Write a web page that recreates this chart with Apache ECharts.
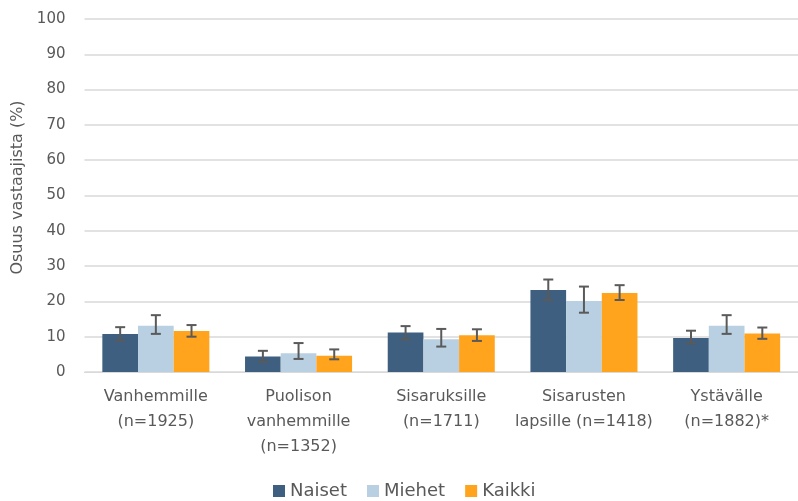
<!DOCTYPE html>
<html><head><meta charset="utf-8">
<script src="https://cdn.jsdelivr.net/npm/echarts@6/dist/echarts.min.js"></script>
<style>html,body{margin:0;padding:0;background:#fff;overflow:hidden}#c{width:798px;height:501px}</style>
</head><body><div id="c"></div>
<script>
const categories = ["Vanhemmille\n(n=1925)", "Puolison\nvanhemmille\n(n=1352)", "Sisaruksille\n(n=1711)", "Sisarusten\nlapsille (n=1418)", "Ystävälle\n(n=1882)*"];
const seriesNames = ["Naiset", "Miehet", "Kaikki"];
const naiset = [10.8, 4.4, 11.2, 23.2, 9.6];
const miehet = [13.1, 5.3, 9.3, 20.1, 13.1];
const kaikki = [11.6, 4.6, 10.4, 22.4, 10.9];
const naisetLow = [8.9, 2.9, 9.2, 20.4, 8.1];
const naisetHigh = [12.7, 6.0, 13.0, 26.2, 11.7];
const miehetLow = [10.8, 3.7, 7.2, 16.8, 10.8];
const miehetHigh = [16.1, 8.2, 12.2, 24.2, 16.1];
const kaikkiLow = [10.0, 3.6, 8.8, 20.4, 9.4];
const kaikkiHigh = [13.3, 6.4, 12.1, 24.6, 12.6];
const yTicks = [0, 10, 20, 30, 40, 50, 60, 70, 80, 90, 100];

const colors = ["#3e5f7f", "#b8d0e1", "#ffa41c"];
const values = [naiset, miehet, kaikki];
const lows = [naisetLow, miehetLow, kaikkiLow];
const highs = [naisetHigh, miehetHigh, kaikkiHigh];
const font = "'DejaVu Sans', sans-serif";
const textColor = "#595959";

const series = [];
seriesNames.forEach((n, i) => {
  series.push({
    name: n, type: 'bar', data: values[i], barGap: '0%', barCategoryGap: '25%',
    itemStyle: { color: colors[i] }
  });
});
seriesNames.forEach((n, i) => {
  series.push({
    type: 'custom', name: n + ' err', silent: true, z: 10,
    data: categories.map((c, k) => [k, lows[i][k], highs[i][k]]),
    encode: { x: 0, y: [1, 2] },
    renderItem: function (params, api) {
      const k = api.value(0);
      const band = api.size([1, 0])[0];
      const off = (i - 1) * band * 0.25;
      const pLo = api.coord([k, api.value(1)]);
      const pHi = api.coord([k, api.value(2)]);
      const x = pLo[0] + off;
      const hw = 5;
      const style = { stroke: '#5a5a5a', lineWidth: 2 };
      return {
        type: 'group', children: [
          { type: 'line', shape: { x1: x, y1: pLo[1], x2: x, y2: pHi[1] }, style },
          { type: 'line', shape: { x1: x - hw, y1: pLo[1], x2: x + hw, y2: pLo[1] }, style },
          { type: 'line', shape: { x1: x - hw, y1: pHi[1], x2: x + hw, y2: pHi[1] }, style }
        ]
      };
    }
  });
});

const chart = echarts.init(document.getElementById('c'), null, { renderer: 'canvas' });
chart.setOption({
  animation: false,
  color: colors,
  grid: { left: 84.5, width: 720, top: 19, height: 353, containLabel: false },
  legend: {
    data: seriesNames, top: 477, left: 268, icon: 'rect',
    itemWidth: 12, itemHeight: 12, itemGap: 20,
    textStyle: { fontFamily: font, fontSize: 18, color: textColor }
  },
  xAxis: {
    type: 'category', data: categories,
    axisLine: { show: true, lineStyle: { color: '#d9d9d9', width: 1 } },
    axisTick: { show: false },
    axisLabel: { fontFamily: font, fontSize: 16, color: textColor, lineHeight: 25, margin: 12, interval: 0 }
  },
  yAxis: {
    type: 'value', min: 0, max: 100, interval: 10,
    name: 'Osuus vastaajista (%)', nameLocation: 'middle', nameGap: 54.5, nameRotate: 90,
    nameTextStyle: { fontFamily: font, fontSize: 16, color: textColor, padding: [0, 0, 0, 16] },
    axisLine: { show: false }, axisTick: { show: false },
    axisLabel: { fontFamily: font, fontSize: 15, color: textColor, margin: 19,
      formatter: v => yTicks.includes(v) ? String(v) : '' },
    splitLine: { lineStyle: { color: '#d9d9d9', width: 1.5 } }
  },
  series: series
});
</script></body></html>
